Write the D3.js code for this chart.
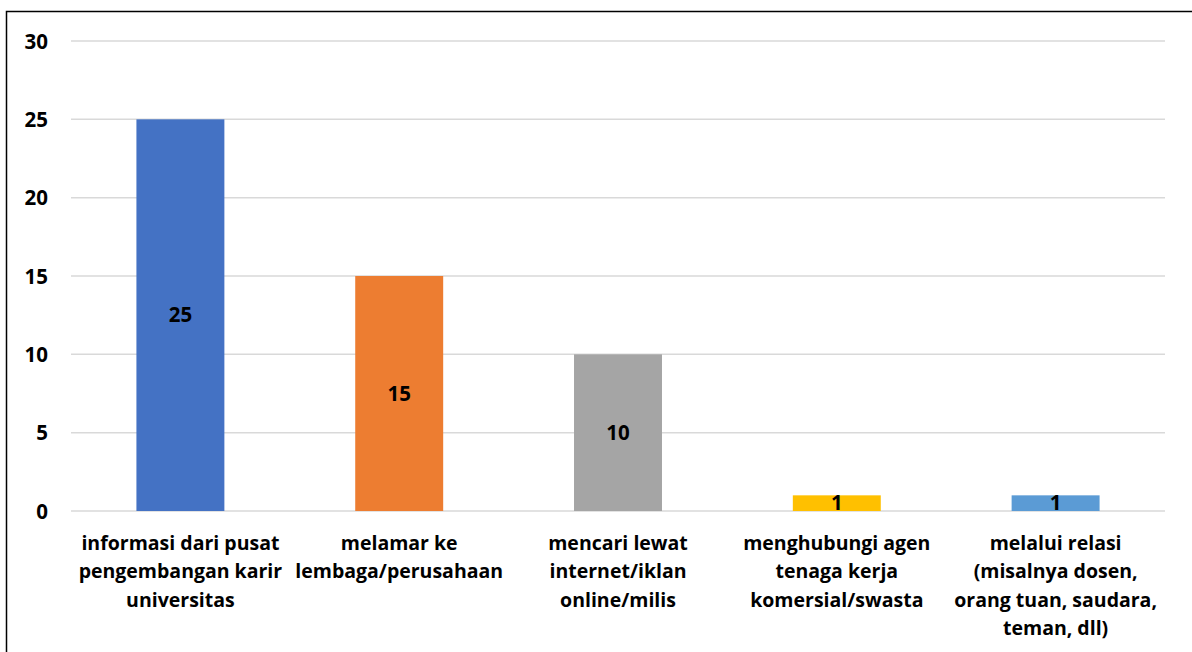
<!doctype html>
<html>
<head>
	<meta charset="UTF-8">
	<title>Sumber informasi pekerjaan</title>
	<script src="https://d3js.org/d3.v7.min.js"></script>
	<style>
		body { margin: 0; background: #fff; }
		text { font-family: "Open Sans", "Lato", sans-serif; font-weight: 700; fill: #000; }
	</style>
</head>
<body>
	<script>
		// Categories, each split into the lines shown under the axis
		var categories = [
			["informasi dari pusat", "pengembangan karir", "universitas"],
			["melamar ke", "lembaga/perusahaan"],
			["mencari lewat", "internet/iklan", "online/milis"],
			["menghubungi agen", "tenaga kerja", "komersial/swasta"],
			["melalui relasi", "(misalnya dosen,", "orang tuan, saudara,", "teman, dll)"]
		];
		var values = [25, 15, 10, 1, 1];
		var colors = ["#4472C4", "#ED7D31", "#A5A5A5", "#FFC000", "#5B9BD5"];
		var yTicks = [0, 5, 10, 15, 20, 25, 30];

		var W = 1192, H = 652;
		var margin = {top: 41, right: 27, bottom: 141, left: 71};
		var width = W - margin.left - margin.right,
			height = H - margin.top - margin.bottom;
		var numSize = "20.5px", catSize = "19.5px";

		var svg = d3.select("body").append("svg")
			.attr("width", W)
			.attr("height", H);

		// chart frame (only top and left edges fall inside the picture)
		svg.append("rect")
			.attr("x", 6.5).attr("y", 11.5)
			.attr("width", W + 10).attr("height", H + 10)
			.attr("fill", "none")
			.attr("stroke", "#000")
			.attr("stroke-width", 1.5);

		var g = svg.append("g")
			.attr("transform", "translate(" + margin.left + "," + margin.top + ")");

		var x = d3.scaleBand()
			.domain(d3.range(values.length))
			.range([0, width])
			.paddingInner(0.598)
			.paddingOuter(0.299);

		var y = d3.scaleLinear().domain([0, 30]).range([height, 0]);

		// gridlines
		g.selectAll(".grid").data(yTicks).enter().append("line")
			.attr("x1", 0).attr("x2", width)
			.attr("y1", function(d) { return y(d); })
			.attr("y2", function(d) { return y(d); })
			.attr("stroke", "#D9D9D9")
			.attr("stroke-width", 1.5);

		// y axis labels
		var yAxis = d3.axisLeft(y).tickValues(yTicks).tickSize(0).tickPadding(23);
		var ya = g.append("g").call(yAxis);
		ya.select(".domain").remove();
		ya.selectAll("text")
			.attr("fill", "#000")
			.style("font-family", "'Open Sans', sans-serif")
			.style("font-weight", "700")
			.style("font-size", numSize)
			.attr("dy", "0.35em");

		// bars
		g.selectAll(".bar").data(values).enter().append("rect")
			.attr("x", function(d, i) { return x(i); })
			.attr("y", function(d) { return y(d); })
			.attr("width", x.bandwidth())
			.attr("height", function(d) { return height - y(d); })
			.attr("fill", function(d, i) { return colors[i]; });

		// value labels in the middle of each bar
		g.selectAll(".val").data(values).enter().append("text")
			.attr("x", function(d, i) { return x(i) + x.bandwidth() / 2; })
			.attr("y", function(d) { return (y(d) + height) / 2; })
			.attr("dy", "0.35em")
			.attr("text-anchor", "middle")
			.style("font-size", numSize)
			.text(function(d) { return d; });

		// category labels
		var cat = g.selectAll(".cat").data(categories).enter().append("text")
			.attr("text-anchor", "middle")
			.attr("transform", function(d, i) {
				return "translate(" + (x(i) + x.bandwidth() / 2) + "," + (height + 32) + ")";
			})
			.style("font-size", catSize);
		cat.selectAll("tspan").data(function(d) { return d; }).enter().append("tspan")
			.attr("x", 0)
			.attr("y", function(d, j) { return j * 28.5; })
			.attr("dy", "0.35em")
			.text(function(d) { return d; });
	</script>
</body>
</html>
